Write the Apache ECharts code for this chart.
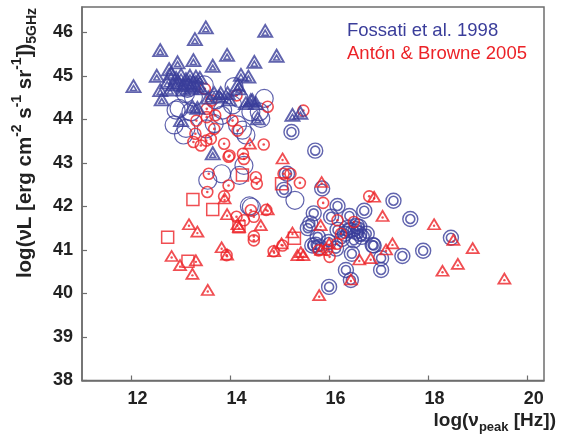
<!DOCTYPE html>
<html>
<head>
<meta charset="utf-8">
<script src="https://cdn.jsdelivr.net/npm/echarts@6/dist/echarts.min.js"></script>
<style>
  html, body { margin: 0; padding: 0; background: #fff; }
  #chart { width: 563px; height: 442px; }
</style>
</head>
<body>
<div id="chart"></div>
<script>
// Axis tick positions
const xTicks = [12, 14, 16, 18, 20];
const yTicks = [38, 39, 40, 41, 42, 43, 44, 45, 46];

// Fossati et al. 1998 — FSRQ (double triangles)
const fossatiFSRQ = [
  [13.50, 46.11], [14.70, 46.03], [13.28, 45.84], [12.58, 45.59], [13.93, 45.48],
  [14.93, 45.46], [14.48, 45.32], [12.93, 45.31], [13.25, 45.36], [13.64, 45.23],
  [12.76, 45.15], [12.51, 45.00], [14.21, 45.02], [14.36, 44.98], [12.04, 44.76],
  [12.58, 44.67], [12.61, 44.46], [14.17, 44.71], [13.80, 44.60], [13.97, 44.46],
  [14.31, 44.37], [14.41, 44.44], [13.23, 44.29], [13.33, 44.26], [13.00, 43.98],
  [14.55, 44.02], [13.64, 43.22], [15.25, 44.10], [15.41, 44.15],
  [12.80, 45.05], [12.90, 44.95], [13.00, 45.02], [13.10, 44.92], [13.18, 45.00],
  [13.30, 44.98], [12.72, 44.85], [12.85, 44.80], [12.95, 44.85], [13.05, 44.78],
  [13.15, 44.82], [13.25, 44.85], [13.35, 44.78], [12.78, 44.68], [13.38, 44.95],
  [13.40, 44.71], [13.67, 44.60], [13.77, 44.52], [13.94, 44.60], [14.14, 44.79],
  [14.44, 44.44], [14.51, 44.37], [13.55, 44.50], [13.20, 44.72], [13.05, 44.68]
];

// Fossati et al. 1998 — LBL (large single circles)
const fossatiLBL = [
  [12.90, 44.21], [12.86, 43.87], [13.10, 43.79], [13.05, 43.64], [13.20, 44.17],
  [13.13, 44.71], [13.09, 44.59], [13.25, 44.51], [13.47, 44.79], [14.07, 44.75],
  [14.17, 44.48], [14.68, 44.48], [14.58, 44.17], [14.41, 44.17], [14.61, 44.02],
  [13.84, 44.21], [14.04, 44.33], [13.70, 44.44], [13.82, 44.09], [13.51, 43.78],
  [13.67, 43.90], [14.14, 43.87], [14.24, 43.75], [14.31, 43.64], [14.27, 42.94],
  [14.18, 42.71], [13.82, 42.75], [13.54, 42.60], [14.38, 42.01], [14.42, 41.98],
  [15.30, 42.14], [12.96, 44.25]
];

// Fossati et al. 1998 — HBL (double circles)
const fossatiHBL = [
  [15.23, 43.71], [15.71, 43.28], [15.85, 42.41], [15.14, 42.75], [15.08, 42.38],
  [16.16, 42.01], [16.70, 41.90], [17.29, 42.13], [17.63, 41.71], [15.68, 41.84],
  [16.03, 41.76], [16.40, 41.78], [15.61, 41.61], [15.56, 41.50], [16.16, 41.46],
  [16.60, 41.53], [16.75, 41.37], [16.31, 41.37], [16.49, 41.22], [16.60, 41.37],
  [16.42, 41.45], [16.52, 41.42], [16.65, 41.30], [16.55, 41.55], [16.35, 41.50],
  [15.76, 41.30], [15.65, 41.10], [15.80, 41.07], [15.72, 41.12], [15.98, 41.18],
  [16.13, 41.03], [16.45, 40.91], [16.87, 41.11], [17.04, 40.81], [17.04, 40.54],
  [16.33, 40.54], [16.43, 40.31], [15.99, 40.15], [17.47, 40.86], [17.89, 40.98],
  [18.45, 41.28], [16.89, 41.10], [16.25, 41.25]
];

// Antón & Browne 2005 — circles with centre dot
const antonCircles = [
  [13.48, 44.70], [13.61, 44.43], [13.52, 44.24], [13.69, 44.09], [13.31, 43.97],
  [13.52, 44.05], [13.67, 43.78], [13.29, 43.67], [13.25, 43.48], [13.40, 43.40],
  [13.51, 43.51], [13.60, 43.55], [13.87, 43.44], [13.98, 43.17], [14.04, 43.97],
  [14.14, 43.74], [14.25, 43.21], [14.27, 43.09], [14.67, 43.42], [14.75, 44.29],
  [15.47, 44.20], [14.12, 44.55], [14.51, 42.67], [14.53, 42.52], [13.56, 42.75],
  [13.53, 42.33], [13.87, 42.23], [13.96, 42.48], [15.40, 42.54], [15.87, 42.08],
  [15.07, 42.75], [15.21, 42.75], [14.72, 41.92], [14.47, 41.76], [14.41, 41.91],
  [14.12, 41.76], [14.27, 41.68], [14.47, 41.31], [14.47, 41.22], [14.87, 40.97],
  [13.92, 40.88], [16.80, 42.23], [16.00, 40.84], [15.78, 40.99], [16.23, 41.37],
  [16.15, 41.14], [16.16, 41.68], [16.49, 41.64], [15.05, 41.10], [15.95, 41.00],
  [13.96, 43.14]
];

// Antón & Browne 2005 — triangles with centre dot
const antonTriangles = [
  [14.39, 43.44], [15.05, 43.10], [15.84, 42.56], [13.88, 42.18], [13.93, 41.82],
  [14.75, 41.93], [14.61, 41.57], [14.17, 41.53], [13.82, 41.06], [13.93, 40.89],
  [13.16, 41.59], [13.33, 41.42], [12.81, 40.86], [12.98, 40.65], [13.30, 40.76],
  [13.23, 40.45], [13.54, 40.08], [15.25, 41.40], [15.03, 41.15], [14.88, 40.97],
  [15.35, 40.88], [15.47, 40.88], [15.79, 39.96], [15.82, 41.57], [15.83, 41.00],
  [15.99, 41.15], [16.60, 40.78], [16.83, 40.81], [16.90, 42.22], [17.07, 41.78],
  [17.14, 41.01], [17.27, 41.15], [18.11, 41.59], [18.28, 40.52], [18.59, 40.68],
  [18.89, 41.04], [19.53, 40.34], [18.50, 41.23], [16.43, 40.32], [15.42, 40.95],
  [14.14, 41.59]
];

// Antón & Browne 2005 — squares
const antonSquares = [
  [13.24, 42.16], [13.64, 41.93], [12.73, 41.29], [13.14, 40.74], [14.17, 41.53],
  [14.24, 42.72], [15.29, 41.27], [15.03, 42.52]
];

const BLUE = '#3a3d9a';
const RED = '#ec2227';
const AXIS = '#6e6e6e';
const FONT = 'Liberation Sans, Arial, Helvetica, sans-serif';

function outline(data, symbol, size, color, width, z, offset) {
  return {
    type: 'scatter', data, symbol, symbolSize: size, z, silent: true,
    symbolOffset: offset || [0, 0],
    itemStyle: { color: 'rgba(0,0,0,0)', borderColor: color, borderWidth: width }
  };
}
function dots(data, color, size, z, offset) {
  return {
    type: 'scatter', data, symbol: 'circle', symbolSize: size, z, silent: true,
    symbolOffset: offset || [0, 0],
    itemStyle: { color: color, borderWidth: 0 }
  };
}

const chart = echarts.init(document.getElementById('chart'), null, { renderer: 'canvas' });

chart.setOption({
  animation: false,
  backgroundColor: '#fff',
  grid: {
    left: 82, right: 19, top: 7, bottom: 61.5,
    show: true, borderColor: AXIS, borderWidth: 1.5, backgroundColor: 'transparent'
  },
  xAxis: {
    type: 'value', min: 11, max: 20.33,
    axisLine: { show: true, onZero: false, lineStyle: { color: AXIS, width: 1.5 } },
    axisTick: { show: true, inside: true, length: 5, customValues: xTicks, lineStyle: { color: AXIS, width: 1.2 } },
    axisLabel: {
      customValues: xTicks, fontSize: 18, fontWeight: 'bold', color: '#222',
      fontFamily: FONT, margin: 10, padding: [0, 0, 0, 12]
    },
    splitLine: { show: false }
  },
  yAxis: {
    type: 'value', min: 38, max: 46.58,
    axisLine: { show: true, onZero: false, lineStyle: { color: AXIS, width: 1.5 } },
    axisTick: { show: true, inside: true, length: 5, customValues: yTicks, lineStyle: { color: AXIS, width: 1.2 } },
    axisLabel: {
      customValues: yTicks, fontSize: 18, fontWeight: 'bold', color: '#222',
      fontFamily: FONT, margin: 9
    },
    splitLine: { show: false }
  },
  series: [
    // Fossati: large circles
    outline(fossatiLBL, 'circle', 18, BLUE, 1.2, 2),
    // Fossati: double circles
    outline(fossatiHBL, 'circle', 15, BLUE, 1.4, 3),
    outline(fossatiHBL, 'circle', 9, BLUE, 1.6, 3),
    // Antón & Browne: circles, triangles, squares
    outline(antonCircles, 'circle', 11, RED, 1.6, 4),
    dots(antonCircles, RED, 2.6, 4),
    outline(antonTriangles, 'triangle', [12, 10], RED, 1.8, 4),
    dots(antonTriangles, RED, 2.4, 4, [0, 1.5]),
    outline(antonSquares, 'rect', 12, RED, 1.5, 4),
    // Fossati: double triangles
    outline(fossatiFSRQ, 'triangle', [14, 12], BLUE, 1.9, 5),
    outline(fossatiFSRQ, 'triangle', [6, 5], BLUE, 1.6, 5, [0, 1.8])
  ],
  graphic: [
    {
      type: 'text', left: 347, top: 21, silent: true,
      style: { text: 'Fossati et al. 1998', fill: BLUE, fontSize: 18.5, fontFamily: FONT }
    },
    {
      type: 'text', left: 347, top: 44, silent: true,
      style: { text: 'Antón & Browne 2005', fill: RED, fontSize: 18.5, fontFamily: FONT }
    },
    {
      type: 'text', right: 7, top: 411, silent: true,
      style: {
        text: '{m|log(ν}{sub|peak}{m| [Hz])}',
        fill: '#222', fontFamily: FONT,
        rich: {
          m: { fontSize: 19, fontWeight: 'bold', fontFamily: FONT, fill: '#222', lineHeight: 26 },
          sub: { fontSize: 13, fontWeight: 'bold', fontFamily: FONT, fill: '#222', lineHeight: 13, verticalAlign: 'bottom' }
        }
      }
    },
    {
      type: 'text', x: 25, y: 143, rotation: Math.PI / 2, silent: true,
      style: {
        text: '{m|log(νL [erg cm}{sup|-2}{m| s}{sup|-1}{m| sr}{sup|-1}{m|])}{sub|5GHz}',
        align: 'center', verticalAlign: 'middle',
        fill: '#222', fontFamily: FONT,
        rich: {
          m: { fontSize: 20.5, fontWeight: 'bold', fontFamily: FONT, fill: '#222', lineHeight: 29 },
          sup: { fontSize: 14, fontWeight: 'bold', fontFamily: FONT, fill: '#222', lineHeight: 14, verticalAlign: 'top' },
          sub: { fontSize: 14, fontWeight: 'bold', fontFamily: FONT, fill: '#222', lineHeight: 14, verticalAlign: 'bottom' }
        }
      }
    }
  ]
});
</script>
</body>
</html>
